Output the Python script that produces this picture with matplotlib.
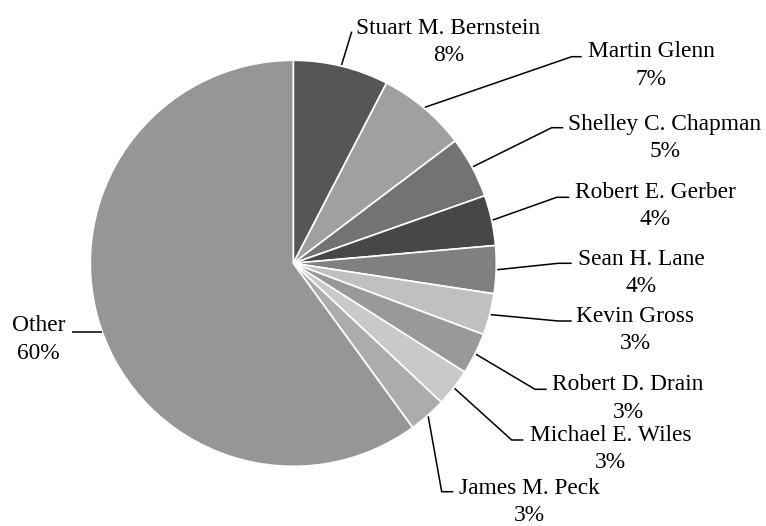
import matplotlib
matplotlib.use("Agg")
import matplotlib.pyplot as plt
import numpy as np

# ---- data ----
names = ["Stuart M. Bernstein", "Martin Glenn", "Shelley C. Chapman", "Robert E. Gerber",
         "Sean H. Lane", "Kevin Gross", "Robert D. Drain", "Michael E. Wiles",
         "James M. Peck", "Other"]
shares = [7.6, 7.1, 4.9, 4.0, 3.8, 3.3, 3.3, 3.0, 3.0, 60.0]
colors = ["#565656", "#a0a0a0", "#737373", "#474747", "#808080",
          "#c0c0c0", "#999999", "#c9c9c9", "#acacac", "#969696"]

# label layout (pixel positions in the 766x526 canvas)
label_centers = [(448.5, 42), (651, 65.5), (665, 138), (655, 206), (641, 273),
                 (635.5, 330), (628, 398.5), (610.5, 449), (529.5, 502), (38.3, 339.5)]
knees = [(351.7, 31.7), (571.7, 56.7), (551.7, 127.7), (556.7, 197.3), (558.3, 263.3),
         (558.3, 321), (535, 389.3), (511.7, 440), (441.7, 491.7), (None, 332.3)]
knee_ends = [(351.7, 31.7), (581.7, 56.7), (563.3, 127.7), (569.3, 197.3), (571.7, 263.3),
             (571.7, 321), (546.7, 389.3), (523.3, 440), (453.3, 491.7), (71.7, 332.3)]

W, H = 766, 526
CX, CY, R = 293.3, 263.3, 203.0

def px(x, y):
    return (x - CX) / R, (CY - y) / R

fig = plt.figure(figsize=(W / 100, H / 100), dpi=100)
ax = fig.add_axes([0, 0, 1, 1])

wedges, _ = ax.pie(shares, colors=colors, startangle=90, counterclock=False, radius=1.0,
                   center=(0, 0), wedgeprops=dict(edgecolor="white", linewidth=1.2),
                   frame=True)
ax.set_xlim(-CX / R, (W - CX) / R)
ax.set_ylim(-(H - CY) / R, CY / R)
ax.axis("off")

total = sum(shares)
for w, name, share, lc, k, ke in zip(wedges, names, shares, label_centers, knees, knee_ends):
    mid = np.deg2rad((w.theta1 + w.theta2) / 2)
    if k[0] is None:
        ey = (CY - k[1]) / R
        sx = -np.sqrt(1.0 - ey ** 2)
        ex = (ke[0] - CX) / R
        xs, ys = [sx, ex], [ey, ey]
    else:
        sx, sy = 1.005 * np.cos(mid), 1.005 * np.sin(mid)
        kx, ky = px(*k)
        ex, ey = px(*ke)
        xs, ys = [sx, kx, ex], [sy, ky, ey]
    ax.plot(xs, ys, color="black", lw=1.1, solid_capstyle="butt")
    pct = round(share / total * 100)
    tx, ty = px(*lc)
    ax.text(tx, ty, f"{name}\n{pct}%", ha="center", va="center", multialignment="center",
            fontsize=16.8, family="Liberation Serif", linespacing=1.4, color="black")

fig.savefig("out.png", dpi=100)
